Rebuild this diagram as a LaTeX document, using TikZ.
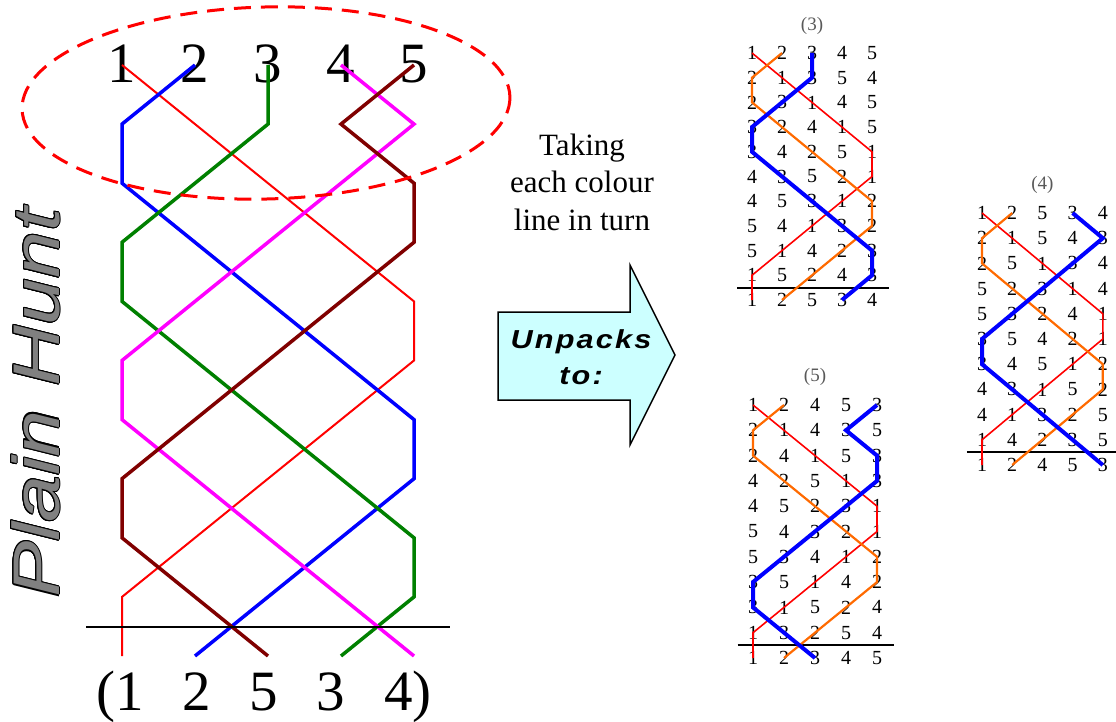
\documentclass[tikz,border=0pt]{standalone}
\usepackage{fontspec}
\usepackage{graphicx}
\usepackage{contour}
\setmainfont{Liberation Serif}
\newfontfamily\arialfont{Liberation Sans}
\definecolor{TrebleRed}{HTML}{FF0000}
\definecolor{BellBlue}{HTML}{0000FF}
\definecolor{BellGreen}{HTML}{008000}
\definecolor{BellPink}{HTML}{FF00FF}
\definecolor{BellBrown}{HTML}{800000}
\definecolor{BellOrange}{HTML}{FF6A00}
\definecolor{ArrowFill}{HTML}{CCFFFF}
\contourlength{0.9pt}

% one bell's line through the places of a grid: style, grid, first place, later places
\newcommand{\bellpath}[4]{%
  \draw[#1] (#2-1-#3.center)
    \foreach \pp [count=\rr from 2] in {#4} {-- (#2-\rr-\pp.center)};}

% a small lead: name, x and y of first place, column and row step, rows, title
\newcommand{\huntlead}[7]{%
  \begin{scope}[shift={(#2,#3)},x=#4pt,y=-#5pt]
    \node[leadtitle] (#1-t) at (2,-1.1) {(#7)};
    \foreach \rw [count=\rr] in {#6}
      \foreach \bb [count=\cc] in \rw
        \node[bellnum] (#1-\rr-\cc) at (\cc-1,\rr-1) {\bb};
    \draw[leadend] (-0.5,9.5) -- (4.55,9.5);
    \bellpath{treble}{#1}{1}{2,3,4,5,5,4,3,2,1,1}
    \bellpath{bell2}{#1}{2}{1,1,2,3,4,5,5,4,3,2}
  \end{scope}}

\begin{document}
\begin{tikzpicture}[x=1pt,y=-1pt,
    bignum/.style={font=\fontsize{57}{60}\selectfont,inner sep=0pt},
    bellnum/.style={font=\fontsize{20}{22}\selectfont,inner sep=0pt},
    leadtitle/.style={font=\fontsize{19}{20}\selectfont,text=black!65,inner sep=0pt},
    treble/.style={TrebleRed,line width=1.6pt},
    bell2/.style={BellOrange,line width=2.2pt},
    bell3/.style={BellBlue,line width=4pt},
    bigline/.style={line width=3.5pt},
    leadend/.style={black,line width=2pt}]
  \useasboundingbox (0,0) rectangle (1116,722);

  \node[rotate=90,inner sep=0pt,font=\arialfont\itshape\fontsize{66}{66}\selectfont] (title) at (36,403)
    {\scalebox{1.28}[1]{\color{black!50}\contour{black}{Plain Hunt}}};

  \begin{scope}[shift={(122,65)},x=73pt,y=-59.1pt]
    \foreach \rr in {1,...,11}
      \foreach \cc in {1,...,5}
        \coordinate (big-\rr-\cc) at (\cc-1,\rr-1);
    \foreach \n in {1,...,5}
      \node[bignum,anchor=base] (top\n) at (\n-1,0.29) {\n};
  \end{scope}
  \bellpath{treble,line width=2pt}{big}{1}{2,3,4,5,5,4,3,2,1,1}
  \bellpath{bigline,BellBlue}{big}{2}{1,1,2,3,4,5,5,4,3,2}
  \bellpath{bigline,BellGreen}{big}{3}{3,2,1,1,2,3,4,5,5,4}
  \bellpath{bigline,BellPink}{big}{4}{5,4,3,2,1,1,2,3,4,5}
  \bellpath{bigline,BellBrown}{big}{5}{4,5,5,4,3,2,1,1,2,3}
  \draw[leadend] (86,627) -- (450,627);
  \node[bignum,anchor=base] (bottom) at (264,710)
    {(1\hspace{.68em}2\hspace{.68em}5\hspace{.68em}3\hspace{.68em}4)};
  \draw[TrebleRed,line width=3pt,dash pattern=on 17pt off 10pt]
    (266,103) circle [x radius=244,y radius=96,rotate=1.5];

  \node[font=\fontsize{31}{37.5}\selectfont,align=center] (taking) at (582,182)
    {Taking\\each colour\\line in turn};
  \draw[fill=ArrowFill,line width=1.5pt] (498,312) -- (630,312) -- (630,265) -- (675,355)
    -- (630,445) -- (630,400) -- (498,400) -- cycle;
  \node[align=center,font=\arialfont\bfseries\itshape\fontsize{26}{36}\selectfont\addfontfeature{LetterSpace=7}]
    (unpack) at (581,357) {\scalebox{1.18}[1]{Unpacks}\\\scalebox{1.18}[1]{to:}};

  \huntlead{g3}{752}{53}{30}{24.7}{{1,2,3,4,5},{2,1,3,5,4},{2,3,1,4,5},{3,2,4,1,5},{3,4,2,5,1},
    {4,3,5,2,1},{4,5,3,1,2},{5,4,1,3,2},{5,1,4,2,3},{1,5,2,4,3},{1,2,5,3,4}}{3}
  \bellpath{bell3}{g3}{3}{3,2,1,1,2,3,4,5,5,4}

  \huntlead{g4}{982}{213}{30.2}{25.2}{{1,2,5,3,4},{2,1,5,4,3},{2,5,1,3,4},{5,2,3,1,4},{5,3,2,4,1},
    {3,5,4,2,1},{3,4,5,1,2},{4,3,1,5,2},{4,1,3,2,5},{1,4,2,3,5},{1,2,4,5,3}}{4}
  \bellpath{bell3}{g4}{4}{5,4,3,2,1,1,2,3,4,5}

  \huntlead{g5}{753}{405}{31}{25.3}{{1,2,4,5,3},{2,1,4,3,5},{2,4,1,5,3},{4,2,5,1,3},{4,5,2,3,1},
    {5,4,3,2,1},{5,3,4,1,2},{3,5,1,4,2},{3,1,5,2,4},{1,3,2,5,4},{1,2,3,4,5}}{5}
  \bellpath{bell3}{g5}{5}{4,5,5,4,3,2,1,1,2,3}
\end{tikzpicture}
\end{document}
